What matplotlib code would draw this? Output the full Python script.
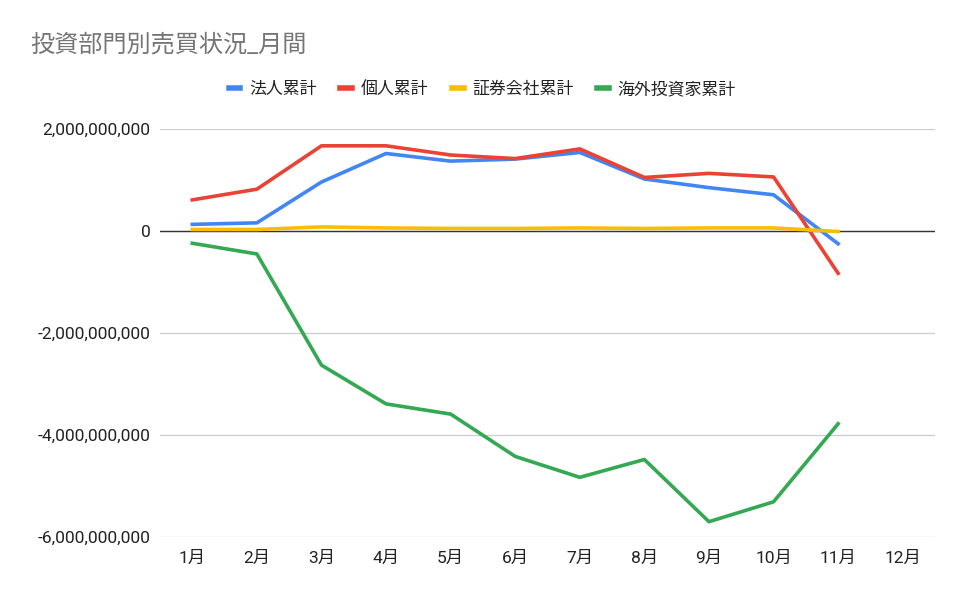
import matplotlib
matplotlib.use("Agg")
import matplotlib.pyplot as plt
from matplotlib.ticker import FuncFormatter

plt.rcParams['font.family'] = ['Roboto', 'Noto Sans CJK JP', 'DejaVu Sans']

months = ["1月", "2月", "3月", "4月", "5月", "6月", "7月", "8月", "9月", "10月", "11月", "12月"]

# 単位: 円 (11月まで)
hojin = [0.13e9, 0.16e9, 0.96e9, 1.52e9, 1.37e9, 1.41e9, 1.54e9, 1.02e9, 0.85e9, 0.71e9, -0.25e9]
kojin = [0.61e9, 0.82e9, 1.67e9, 1.67e9, 1.49e9, 1.42e9, 1.61e9, 1.05e9, 1.13e9, 1.06e9, -0.83e9]
shoken = [0.03e9, 0.03e9, 0.08e9, 0.06e9, 0.05e9, 0.05e9, 0.06e9, 0.05e9, 0.06e9, 0.06e9, -0.01e9]
kaigai = [-0.24e9, -0.45e9, -2.63e9, -3.39e9, -3.59e9, -4.42e9, -4.83e9, -4.48e9, -5.70e9, -5.31e9, -3.78e9]

names = ["法人累計", "個人累計", "証券会社累計", "海外投資家累計"]
colors = ["#4285F4", "#EA4335", "#FBBC04", "#34A853"]

fig = plt.figure(figsize=(9.65, 5.97), dpi=100)
ax = fig.add_axes([160 / 965, 1 - 537 / 597, 775 / 965, 408 / 597])

x = list(range(1, len(hojin) + 1))
for i, (vals, name, c) in enumerate(zip([hojin, kojin, shoken, kaigai], names, colors)):
    ax.plot(x, vals, color=c, lw=2.6, label=name, zorder=3 + i, solid_joinstyle='round')

ax.set_xlim(0.5, 12.5)
ax.set_ylim(-6e9, 2e9)
ax.set_yticks([-6e9, -4e9, -2e9, 0, 2e9])
ax.yaxis.set_major_formatter(FuncFormatter(lambda v, p: f"{int(v):,}"))
ax.set_xticks(range(1, 13))
ax.set_xticklabels(months)
ax.grid(axis='y', color='#cccccc', lw=0.9)
ax.axhline(0, color='#333333', lw=1, zorder=2)
ax.set_axisbelow(True)
for s in ax.spines.values():
    s.set_visible(False)
ax.tick_params(length=0, labelsize=12.5, colors='#222222')
ax.tick_params(axis='y', pad=7)
ax.tick_params(axis='x', pad=10)

fig.text(30 / 965, 1 - 45 / 597, "投資部門別売買状況_月間", fontsize=17.4, color='#757575', va='center', ha='left')

leg = fig.legend(loc='center', bbox_to_anchor=(482 / 965, 1 - 89 / 597), ncol=4, frameon=False,
                 fontsize=12.2, handlelength=0.7, handletextpad=0.5, columnspacing=1.4)
for h in leg.get_lines():
    h.set_linewidth(4)
for t in leg.get_texts():
    t.set_color('#222222')

fig.savefig("out.png", dpi=100)
